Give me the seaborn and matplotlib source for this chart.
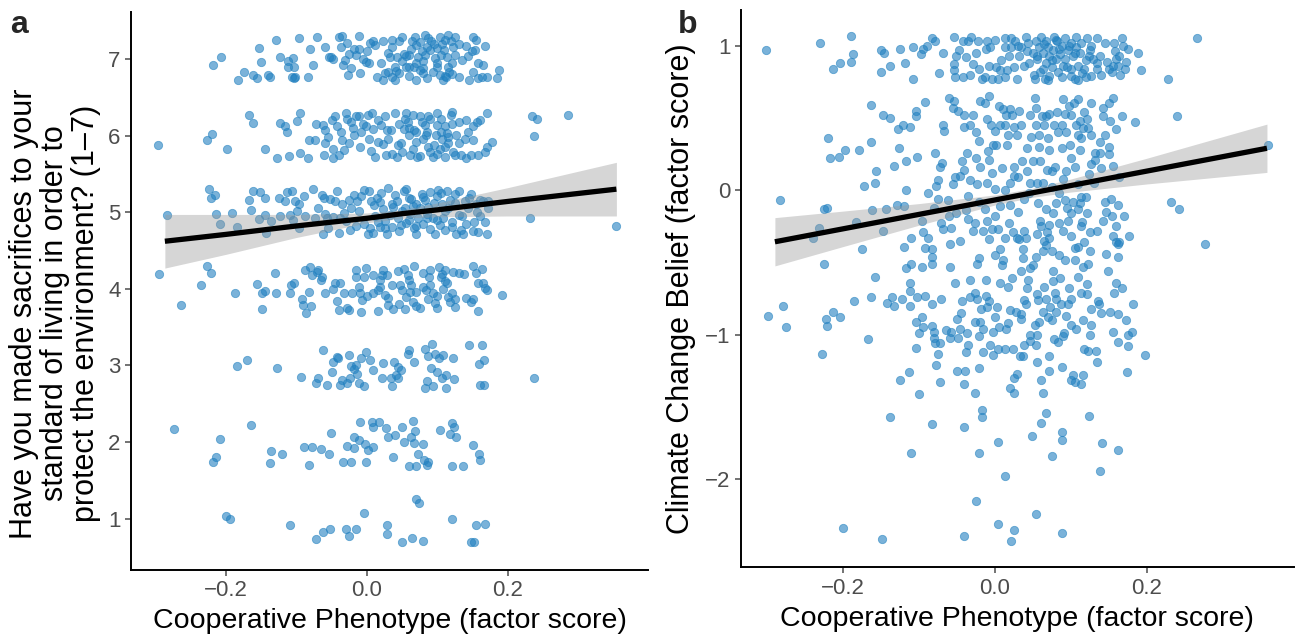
import matplotlib
matplotlib.use("Agg")
import matplotlib.pyplot as plt
import numpy as np
import pandas as pd
import seaborn as sns

# ---- panel a: sacrifices (1-7, jittered) vs cooperative phenotype ----
row7 = [(-0.219, 6.92), (-0.208, 7.02), (-0.183, 6.73), (-0.174, 6.83), (-0.162, 6.79), (-0.156, 6.75),
        (-0.154, 7.14), (-0.151, 6.96), (-0.141, 6.79), (-0.138, 6.76), (-0.129, 7.24), (-0.123, 7.02),
        (-0.112, 6.97), (-0.112, 6.90), (-0.107, 6.76), (-0.104, 6.75), (-0.102, 6.76), (-0.105, 7.01),
        (-0.104, 6.89), (-0.097, 7.27), (-0.084, 6.77), (-0.081, 7.13), (-0.076, 6.92), (-0.071, 7.29),
        (-0.059, 7.15), (-0.054, 7.03), (-0.051, 7.02), (-0.048, 7.00), (-0.040, 7.28), (-0.035, 7.30),
        (-0.037, 7.16), (-0.034, 6.92), (-0.031, 6.99), (-0.028, 7.21), (-0.027, 6.79), (-0.026, 7.07),
        (-0.023, 6.88), (-0.019, 7.13), (-0.015, 7.05), (-0.011, 7.30), (-0.011, 7.13), (-0.006, 7.00),
        (-0.002, 6.96), (0.003, 6.94), (0.004, 7.21), (0.008, 7.23), (0.011, 7.18), (0.014, 6.76),
        (0.022, 7.23), (0.023, 6.73), (0.026, 6.81), (0.030, 6.83), (0.032, 7.02), (0.036, 7.25),
        (0.036, 7.16), (0.036, 6.76), (0.040, 6.90), (0.041, 6.84), (0.043, 7.03), (0.045, 7.23),
        (0.046, 6.81), (0.049, 6.97), (0.052, 7.07), (0.055, 6.89), (0.056, 7.04), (0.059, 6.89),
        (0.062, 7.13), (0.064, 7.23), (0.066, 6.90), (0.068, 7.29), (0.069, 7.18), (0.070, 6.73),
        (0.072, 7.02), (0.075, 6.85), (0.078, 7.10), (0.079, 6.97), (0.080, 6.81), (0.082, 7.31),
        (0.083, 7.05), (0.085, 7.15), (0.087, 7.27), (0.091, 7.23), (0.094, 6.83), (0.097, 7.01),
        (0.099, 7.14), (0.100, 6.89), (0.103, 7.28), (0.104, 6.79), (0.106, 7.19), (0.108, 6.73),
        (0.109, 7.12), (0.112, 6.77), (0.113, 7.03), (0.115, 7.31), (0.117, 6.83), (0.119, 7.23),
        (0.120, 6.94), (0.122, 7.15), (0.125, 7.05), (0.130, 6.77), (0.141, 7.17), (0.143, 7.04),
        (0.149, 7.10), (0.151, 7.28), (0.153, 7.11), (0.151, 6.83), (0.157, 6.94), (0.158, 6.75),
        (0.163, 6.76), (0.165, 6.92), (0.167, 7.17), (0.170, 6.77), (0.184, 6.75), (0.188, 6.86),
        (0.050, 7.28), (0.060, 7.05), (0.070, 6.95), (0.080, 6.88), (0.090, 7.12), (0.100, 6.95),
        (0.110, 7.25), (0.120, 6.80), (0.130, 7.20), (0.020, 6.95), (0.040, 6.72), (0.060, 6.78),
        (0.085, 6.75), (0.095, 7.20), (0.105, 7.05), (0.115, 6.90), (0.125, 7.28), (0.135, 6.98),
        (0.145, 6.73), (0.155, 7.25), (0.000, 7.10), (-0.010, 6.82), (0.030, 7.08), (0.075, 7.22),
        (0.110, 6.78)]

row6 = [(-0.297, 5.87), (-0.227, 5.94), (-0.220, 6.02), (-0.199, 5.82), (-0.168, 6.27), (-0.162, 6.16),
        (-0.145, 5.83), (-0.128, 5.71), (-0.123, 6.16), (-0.117, 6.12), (-0.113, 6.05), (-0.111, 5.73),
        (-0.099, 6.19), (-0.095, 6.30), (-0.095, 5.77), (-0.084, 5.71), (-0.083, 5.94), (-0.073, 6.15),
        (-0.074, 5.94), (-0.062, 6.14), (-0.061, 5.75), (-0.059, 6.07), (-0.059, 5.90), (-0.055, 5.98),
        (-0.049, 5.71), (-0.049, 5.83), (-0.045, 6.26), (-0.043, 6.12), (-0.037, 6.04), (-0.035, 5.94),
        (-0.032, 5.81), (-0.030, 6.30), (-0.028, 6.22), (-0.025, 5.90), (-0.023, 6.17), (-0.019, 6.01),
        (-0.016, 6.25), (-0.011, 6.25), (-0.008, 6.05), (-0.006, 6.15), (-0.001, 6.12), (0.001, 6.27),
        (0.003, 5.96), (0.007, 6.30), (0.009, 6.09), (0.012, 5.72), (0.016, 5.91), (0.020, 6.14),
        (0.022, 5.89), (0.026, 6.26), (0.027, 5.75), (0.029, 6.07), (0.034, 6.07), (0.040, 6.29),
        (0.042, 5.72), (0.044, 5.88), (0.048, 5.90), (0.053, 6.08), (0.054, 6.22), (0.056, 6.30),
        (0.058, 6.18), (0.060, 6.01), (0.061, 5.75), (0.065, 5.83), (0.067, 6.07), (0.069, 6.05),
        (0.071, 5.72), (0.075, 6.25), (0.078, 6.18), (0.080, 5.96), (0.082, 6.14), (0.084, 6.01),
        (0.086, 5.85), (0.087, 6.25), (0.090, 5.79), (0.094, 5.72), (0.098, 6.01), (0.099, 6.14),
        (0.100, 6.29), (0.104, 5.83), (0.105, 6.22), (0.107, 5.96), (0.110, 5.72), (0.111, 6.12),
        (0.113, 6.03), (0.115, 5.90), (0.119, 6.27), (0.121, 6.31), (0.122, 5.79), (0.127, 6.01),
        (0.130, 6.18), (0.134, 5.75), (0.140, 5.70), (0.139, 5.96), (0.143, 6.05), (0.148, 5.75),
        (0.150, 5.94), (0.151, 6.12), (0.158, 5.75), (0.156, 6.18), (0.160, 6.20), (0.167, 5.79),
        (0.170, 5.85), (0.171, 6.29), (0.177, 5.92), (0.234, 6.26), (0.241, 6.22), (0.237, 6.00),
        (0.286, 6.27), (0.005, 5.80), (0.015, 6.20), (0.030, 5.95), (0.045, 6.15), (0.050, 5.78),
        (0.060, 6.10), (0.070, 5.92), (0.075, 5.73), (0.085, 6.05), (0.090, 6.22), (0.095, 5.88),
        (0.100, 5.76), (0.105, 6.05), (0.110, 5.85), (0.120, 6.15), (0.125, 5.74), (0.130, 5.90),
        (0.140, 6.20), (-0.010, 5.85), (-0.020, 6.10), (-0.040, 5.75), (-0.050, 6.20), (0.035, 5.76),
        (0.065, 6.27), (0.115, 5.98)]

row5 = [(-0.284, 4.96), (-0.224, 5.30), (-0.222, 5.19), (-0.216, 5.22), (-0.215, 4.98), (-0.209, 4.84),
        (-0.191, 4.99), (-0.185, 4.80), (-0.168, 5.16), (-0.165, 5.03), (-0.162, 5.27), (-0.153, 4.91),
        (-0.152, 5.26), (-0.145, 5.19), (-0.145, 4.96), (-0.143, 4.73), (-0.137, 4.88), (-0.125, 5.19),
        (-0.124, 4.95), (-0.117, 5.14), (-0.114, 5.26), (-0.110, 4.96), (-0.107, 5.28), (-0.105, 4.90),
        (-0.102, 5.14), (-0.099, 5.01), (-0.097, 4.79), (-0.096, 5.10), (-0.090, 5.21), (-0.088, 4.95),
        (-0.077, 5.30), (-0.074, 4.93), (-0.070, 5.06), (-0.064, 5.23), (-0.063, 4.71), (-0.061, 5.19),
        (-0.057, 4.92), (-0.055, 4.79), (-0.052, 5.17), (-0.048, 4.94), (-0.043, 5.27), (-0.040, 4.73),
        (-0.038, 4.93), (-0.036, 5.11), (-0.033, 4.99), (-0.026, 5.16), (-0.024, 4.77), (-0.023, 5.05),
        (-0.019, 5.22), (-0.016, 4.82), (-0.014, 5.14), (-0.011, 5.01), (-0.009, 5.21), (-0.005, 5.29),
        (-0.004, 4.85), (0.001, 4.71), (0.003, 5.28), (0.004, 4.79), (0.009, 4.73), (0.010, 5.09),
        (0.014, 5.19), (0.015, 4.87), (0.018, 4.81), (0.019, 5.13), (0.022, 5.04), (0.026, 4.79),
        (0.028, 4.71), (0.030, 5.31), (0.032, 4.96), (0.035, 4.81), (0.037, 5.07), (0.040, 5.23),
        (0.042, 5.14), (0.044, 4.92), (0.048, 4.83), (0.052, 5.28), (0.054, 5.06), (0.056, 4.86),
        (0.059, 5.19), (0.061, 4.97), (0.063, 5.17), (0.066, 4.79), (0.069, 4.71), (0.070, 5.11),
        (0.073, 4.92), (0.075, 5.05), (0.078, 5.24), (0.080, 4.84), (0.082, 5.16), (0.085, 4.92),
        (0.087, 5.07), (0.090, 5.26), (0.093, 4.92), (0.096, 4.71), (0.099, 5.21), (0.101, 5.29),
        (0.104, 4.83), (0.106, 5.11), (0.108, 4.93), (0.110, 4.77), (0.113, 5.27), (0.115, 5.05),
        (0.118, 5.16), (0.121, 4.87), (0.125, 5.24), (0.127, 4.71), (0.130, 4.96), (0.133, 4.77),
        (0.136, 4.71), (0.139, 5.14), (0.144, 5.05), (0.148, 5.24), (0.152, 4.87), (0.156, 5.00),
        (0.158, 4.74), (0.160, 5.16), (0.165, 5.14), (0.167, 4.87), (0.170, 4.72), (0.172, 5.14),
        (0.172, 5.05), (0.231, 4.92), (0.354, 4.82), (0.005, 5.15), (0.012, 4.95), (0.020, 5.25),
        (0.025, 4.88), (0.035, 5.10), (0.045, 4.75), (0.050, 5.02), (0.055, 5.30), (0.060, 4.90),
        (0.065, 5.08), (0.070, 4.82), (0.080, 5.20), (0.085, 4.98), (0.090, 4.78), (0.095, 5.12),
        (0.100, 4.90), (0.105, 5.25), (0.110, 5.02), (0.120, 4.80), (0.125, 5.12), (0.130, 5.28),
        (0.135, 4.95), (0.140, 4.85), (0.145, 5.18), (0.150, 4.75), (0.155, 5.10), (0.160, 4.95),
        (-0.030, 4.88), (-0.045, 5.15), (-0.060, 4.98)]

row4 = [(-0.296, 4.19), (-0.264, 3.79), (-0.235, 4.05), (-0.227, 4.30), (-0.221, 4.21), (-0.188, 3.94),
        (-0.156, 4.06), (-0.149, 3.95), (-0.149, 3.73), (-0.145, 3.97), (-0.130, 4.21), (-0.129, 3.94),
        (-0.110, 3.94), (-0.108, 4.05), (-0.104, 4.07), (-0.093, 3.86), (-0.091, 3.79), (-0.088, 4.25),
        (-0.086, 3.69), (-0.082, 3.96), (-0.081, 4.29), (-0.080, 3.77), (-0.078, 4.18), (-0.071, 4.22),
        (-0.069, 4.25), (-0.066, 4.11), (-0.064, 4.16), (-0.059, 3.95), (-0.049, 4.00), (-0.045, 4.07),
        (-0.043, 3.84), (-0.040, 3.72), (-0.038, 4.08), (-0.032, 3.95), (-0.028, 3.75), (-0.026, 3.72),
        (-0.022, 3.94), (-0.016, 4.24), (-0.015, 4.16), (-0.012, 4.02), (-0.010, 3.95), (-0.008, 3.70),
        (-0.007, 3.85), (-0.005, 4.16), (-0.001, 4.27), (0.008, 4.18), (0.009, 3.95), (0.015, 3.71),
        (0.016, 3.98), (0.018, 4.11), (0.019, 4.02), (0.021, 4.18), (0.023, 4.24), (0.026, 3.92),
        (0.028, 4.18), (0.030, 3.79), (0.037, 3.74), (0.044, 4.23), (0.047, 4.05), (0.049, 3.98),
        (0.052, 4.26), (0.054, 3.74), (0.056, 3.89), (0.058, 4.18), (0.061, 3.96), (0.063, 4.05),
        (0.065, 3.83), (0.067, 4.30), (0.070, 3.96), (0.075, 3.75), (0.079, 4.20), (0.084, 3.98),
        (0.086, 3.86), (0.088, 4.16), (0.090, 4.05), (0.094, 3.94), (0.096, 3.81), (0.100, 3.75),
        (0.102, 4.29), (0.106, 4.19), (0.108, 4.00), (0.111, 4.24), (0.113, 4.07), (0.115, 3.89),
        (0.118, 3.83), (0.122, 4.22), (0.125, 3.87), (0.138, 4.19), (0.147, 3.83), (0.151, 3.87),
        (0.151, 4.30), (0.155, 4.20), (0.157, 3.71), (0.158, 4.07), (0.163, 4.26), (0.164, 4.08),
        (0.167, 4.01), (0.170, 3.98), (0.192, 3.92), (0.060, 4.12), (0.070, 3.78), (0.080, 4.02),
        (0.090, 4.25), (0.100, 3.90), (0.110, 4.10), (0.120, 3.95), (0.130, 4.20), (0.140, 3.88),
        (0.035, 4.05), (0.045, 3.80), (0.000, 3.90), (0.030, 3.88), (0.105, 4.15), (0.125, 3.76)]

row3 = [(-0.185, 2.99), (-0.171, 3.07), (-0.128, 2.96), (-0.094, 2.85), (-0.073, 2.77), (-0.069, 2.83),
        (-0.063, 3.20), (-0.057, 2.74), (-0.050, 2.92), (-0.048, 3.04), (-0.042, 3.11), (-0.041, 3.09),
        (-0.038, 2.75), (-0.035, 2.81), (-0.029, 2.77), (-0.026, 3.14), (-0.024, 2.83), (-0.023, 2.99),
        (-0.019, 2.95), (-0.015, 3.00), (-0.014, 2.89), (-0.012, 2.77), (-0.009, 3.09), (-0.005, 2.73),
        (-0.002, 3.17), (0.004, 3.07), (0.009, 2.94), (0.021, 2.83), (0.023, 3.03), (0.034, 2.83),
        (0.035, 2.73), (0.038, 3.04), (0.041, 2.88), (0.044, 2.98), (0.044, 2.83), (0.048, 2.94),
        (0.059, 3.20), (0.058, 3.15), (0.066, 3.04), (0.083, 3.22), (0.085, 2.80), (0.083, 2.70),
        (0.087, 3.12), (0.091, 2.96), (0.092, 3.28), (0.093, 2.73), (0.096, 3.15), (0.100, 2.92),
        (0.102, 3.09), (0.106, 2.83), (0.108, 3.14), (0.112, 2.88), (0.112, 2.70), (0.122, 3.10),
        (0.124, 2.82), (0.145, 3.27), (0.159, 3.02), (0.163, 3.26), (0.160, 2.75), (0.166, 2.74),
        (0.166, 3.07), (0.237, 2.83)]

row2 = [(-0.274, 2.17), (-0.209, 2.04), (-0.214, 1.81), (-0.218, 1.74), (-0.165, 2.22), (-0.136, 1.88),
        (-0.121, 1.85), (-0.138, 1.73), (-0.089, 1.93), (-0.078, 1.93), (-0.066, 1.91), (-0.082, 1.70),
        (-0.054, 1.84), (-0.051, 2.12), (-0.034, 1.74), (-0.028, 1.95), (-0.023, 1.74), (-0.019, 1.92),
        (-0.019, 2.06), (-0.012, 2.02), (-0.010, 2.26), (-0.003, 1.98), (-0.002, 1.74), (0.002, 1.90),
        (0.007, 2.26), (0.008, 2.19), (0.009, 1.94), (0.017, 2.26), (0.027, 2.18), (0.030, 2.07),
        (0.037, 1.81), (0.039, 2.09), (0.049, 2.19), (0.053, 2.00), (0.059, 1.69), (0.062, 2.06),
        (0.065, 2.27), (0.066, 1.99), (0.068, 2.14), (0.070, 1.69), (0.073, 1.85), (0.079, 1.97),
        (0.081, 1.77), (0.087, 1.74), (0.085, 1.70), (0.104, 2.16), (0.118, 2.10), (0.120, 2.25),
        (0.123, 2.19), (0.127, 2.06), (0.120, 1.69), (0.136, 1.69), (0.150, 1.96), (0.159, 1.85),
        (0.161, 1.77)]

row1 = [(-0.200, 1.04), (-0.195, 0.99), (-0.110, 0.92), (-0.072, 0.73), (-0.062, 0.83), (-0.052, 0.87),
        (-0.030, 0.87), (-0.026, 0.78), (-0.015, 0.87), (-0.004, 1.08), (0.028, 0.80), (0.029, 0.92),
        (0.050, 0.69), (0.064, 0.75), (0.069, 1.25), (0.074, 1.20), (0.080, 0.71), (0.120, 0.99),
        (0.147, 0.70), (0.152, 0.69), (0.154, 0.92), (0.168, 0.93)]

# fitted line and 95% band
fit_a_x = [-0.287, -0.2, -0.1, 0.0, 0.05, 0.1, 0.2, 0.354]
fit_a_y = [4.62, 4.71, 4.82, 4.92, 4.98, 5.03, 5.14, 5.30]
fit_a_lo = [4.27, 4.45, 4.67, 4.86, 4.92, 4.94, 4.95, 4.95]
fit_a_hi = [4.97, 4.97, 4.97, 4.99, 5.03, 5.12, 5.32, 5.65]

# ---- panel b: climate change belief vs cooperative phenotype ----
belief_top = [(-0.301, 0.97), (-0.230, 1.02), (-0.189, 1.07), (-0.186, 0.94), (-0.189, 0.89), (-0.204, 0.88),
              (-0.213, 0.84), (-0.150, 0.97), (-0.145, 0.95), (-0.149, 0.82), (-0.137, 0.86), (-0.124, 0.98),
              (-0.118, 0.88), (-0.107, 0.99), (-0.108, 0.77), (-0.097, 0.94), (-0.094, 0.98), (-0.089, 1.00),
              (-0.082, 1.05), (-0.079, 1.03), (-0.068, 0.95), (-0.073, 0.81), (-0.054, 1.06), (-0.054, 0.87),
              (-0.053, 0.83), (-0.052, 0.78), (-0.051, 0.93), (-0.047, 0.97), (-0.042, 0.78), (-0.042, 1.03),
              (-0.038, 0.92), (-0.035, 1.03), (-0.033, 0.80), (-0.031, 1.06), (-0.028, 0.87), (-0.025, 0.95),
              (-0.022, 1.03), (-0.021, 0.84), (-0.017, 0.77), (-0.013, 0.78), (-0.011, 0.98), (-0.010, 1.03),
              (-0.008, 0.86), (-0.006, 0.99), (-0.004, 0.77), (0.001, 1.04), (0.002, 0.85), (0.005, 0.77),
              (0.007, 0.83), (0.008, 0.90), (0.013, 0.78), (0.014, 1.05), (0.014, 0.99), (0.016, 0.83),
              (0.019, 0.93), (0.021, 0.99), (0.022, 1.05), (0.026, 0.85), (0.027, 1.03), (0.029, 0.77),
              (0.032, 0.93), (0.035, 0.99), (0.039, 0.86), (0.041, 1.06), (0.042, 0.96), (0.044, 1.02),
              (0.050, 0.95), (0.052, 0.80), (0.053, 0.77), (0.054, 1.03), (0.056, 0.91), (0.058, 0.99),
              (0.061, 1.06), (0.063, 0.84), (0.064, 0.95), (0.066, 0.77), (0.067, 1.03), (0.068, 0.88),
              (0.070, 0.99), (0.071, 0.79), (0.072, 0.93), (0.075, 0.85), (0.077, 0.97), (0.078, 1.06),
              (0.080, 0.91), (0.082, 1.03), (0.083, 0.82), (0.086, 0.94), (0.088, 0.78), (0.089, 1.00),
              (0.090, 0.86), (0.092, 1.05), (0.093, 0.91), (0.096, 0.97), (0.098, 1.00), (0.100, 0.79),
              (0.101, 0.84), (0.103, 0.93), (0.105, 0.77), (0.107, 0.99), (0.107, 1.06), (0.110, 0.86),
              (0.112, 0.95), (0.114, 1.02), (0.118, 0.84), (0.120, 0.78), (0.121, 1.05), (0.124, 0.93),
              (0.126, 0.79), (0.127, 1.00), (0.129, 0.91), (0.134, 0.84), (0.135, 1.05), (0.139, 0.93),
              (0.140, 0.80), (0.148, 0.89), (0.150, 0.84), (0.154, 0.82), (0.157, 1.02), (0.158, 0.96),
              (0.160, 0.91), (0.162, 0.86), (0.164, 0.93), (0.167, 1.05), (0.169, 1.00), (0.171, 0.84),
              (0.173, 0.89), (0.175, 0.98), (0.189, 0.95), (0.193, 0.83), (0.228, 0.77), (0.266, 1.05),
              (0.030, 1.00), (0.045, 0.88), (0.055, 0.93), (0.065, 1.01), (0.075, 0.90), (0.085, 0.98),
              (0.095, 0.85), (0.105, 0.95), (0.115, 0.81), (0.125, 0.97), (0.135, 0.88), (0.145, 1.02),
              (0.155, 0.86), (0.165, 0.80), (0.060, 0.82), (0.080, 1.04), (0.100, 1.02), (0.120, 0.90),
              (0.070, 0.76), (0.110, 0.76)]

belief_upper = [(-0.163, 0.59), (-0.147, 0.52), (-0.137, 0.50), (-0.127, 0.42), (-0.121, 0.45), (-0.111, 0.44),
                (-0.104, 0.55), (-0.103, 0.51), (-0.091, 0.61), (-0.068, 0.45), (-0.067, 0.41), (-0.060, 0.64),
                (-0.054, 0.62), (-0.055, 0.57), (-0.048, 0.55), (-0.040, 0.52), (-0.041, 0.44), (-0.033, 0.45),
                (-0.029, 0.52), (-0.024, 0.40), (-0.021, 0.34), (-0.019, 0.62), (-0.013, 0.60), (-0.010, 0.49),
                (-0.007, 0.65), (-0.005, 0.45), (-0.002, 0.31), (0.001, 0.41), (0.006, 0.58), (0.007, 0.45),
                (0.011, 0.56), (0.013, 0.45), (0.015, 0.52), (0.018, 0.38), (0.020, 0.56), (0.023, 0.52),
                (0.026, 0.44), (0.029, 0.38), (0.032, 0.55), (0.035, 0.45), (0.046, 0.52), (0.048, 0.37),
                (0.053, 0.64), (0.054, 0.57), (0.054, 0.45), (0.058, 0.38), (0.062, 0.51), (0.065, 0.45),
                (0.068, 0.51), (0.070, 0.36), (0.072, 0.53), (0.078, 0.45), (0.082, 0.54), (0.083, 0.40),
                (0.088, 0.45), (0.090, 0.63), (0.092, 0.53), (0.094, 0.40), (0.098, 0.58), (0.101, 0.52),
                (0.104, 0.60), (0.107, 0.45), (0.109, 0.38), (0.110, 0.63), (0.112, 0.48), (0.114, 0.36),
                (0.116, 0.43), (0.118, 0.54), (0.121, 0.49), (0.123, 0.43), (0.126, 0.60), (0.127, 0.38),
                (0.138, 0.33), (0.142, 0.57), (0.143, 0.51), (0.145, 0.38), (0.150, 0.60), (0.151, 0.48),
                (0.156, 0.64), (0.160, 0.42), (0.167, 0.51), (0.185, 0.47), (0.240, 0.51),
                (-0.219, 0.36), (-0.197, 0.28), (-0.178, 0.28), (-0.163, 0.33), (-0.126, 0.29), (-0.079, 0.26),
                (-0.036, 0.26), (-0.009, 0.27), (0.002, 0.31), (0.016, 0.31), (0.042, 0.29), (0.058, 0.30),
                (0.072, 0.28), (0.089, 0.29), (0.099, 0.31), (0.112, 0.28), (0.132, 0.26), (0.138, 0.26),
                (0.150, 0.30)]

belief_middle = [(-0.216, 0.22), (-0.205, 0.23), (-0.156, 0.13), (-0.172, 0.03), (-0.158, 0.05), (-0.132, 0.17),
                 (-0.117, 0.20), (-0.116, 0.00), (-0.102, 0.23), (-0.088, -0.02), (-0.077, 0.03), (-0.075, 0.07),
                 (-0.075, -0.06), (-0.072, 0.16), (-0.069, 0.19), (-0.061, -0.07), (-0.060, -0.18), (-0.055, 0.04),
                 (-0.052, 0.09), (-0.045, 0.10), (-0.043, 0.20), (-0.041, 0.14), (-0.035, -0.04), (-0.033, 0.07),
                 (-0.024, 0.22), (-0.023, 0.04), (-0.019, 0.16), (-0.010, 0.05), (-0.007, 0.21), (-0.003, 0.12),
                 (0.000, 0.01), (0.007, -0.11), (0.014, 0.00), (0.020, -0.10), (0.025, 0.16), (0.026, 0.10),
                 (0.031, 0.09), (0.036, 0.20), (0.039, -0.06), (0.043, 0.13), (0.046, 0.05), (0.050, 0.20),
                 (0.055, 0.05), (0.057, -0.09), (0.064, 0.05), (0.067, -0.13), (0.069, 0.14), (0.075, 0.13),
                 (0.077, -0.16), (0.079, 0.16), (0.081, -0.09), (0.085, -0.02), (0.092, -0.07), (0.094, 0.13),
                 (0.101, -0.16), (0.103, -0.08), (0.105, 0.16), (0.110, -0.13), (0.112, -0.09), (0.114, -0.05),
                 (0.121, -0.16), (0.124, 0.11), (0.127, 0.18), (0.132, 0.21), (0.143, -0.21), (0.147, -0.15),
                 (0.153, -0.06), (0.154, -0.18), (0.156, 0.17), (0.159, -0.25), (0.162, -0.10), (0.164, 0.09),
                 (0.170, -0.18), (0.177, -0.32), (0.232, -0.08), (0.242, -0.13), (0.277, -0.37), (0.360, 0.31),
                 (-0.282, -0.07), (-0.224, -0.13), (-0.221, -0.12), (-0.231, -0.26), (-0.239, -0.33),
                 (-0.182, -0.22), (-0.175, -0.41), (-0.224, -0.51), (-0.161, -0.14), (-0.147, -0.28),
                 (-0.143, -0.13), (-0.129, -0.10), (-0.119, -0.11), (-0.119, -0.39), (-0.110, -0.33),
                 (-0.117, -0.54), (-0.110, -0.51), (-0.096, -0.21), (-0.094, -0.29), (-0.092, -0.40),
                 (-0.096, -0.53), (-0.088, -0.33), (-0.082, -0.41), (-0.083, -0.46), (-0.083, -0.51),
                 (-0.080, -0.12), (-0.071, -0.23), (-0.068, -0.27), (-0.058, -0.26), (-0.059, -0.37),
                 (-0.059, -0.53), (-0.051, -0.16), (-0.038, -0.14), (-0.035, -0.20), (-0.029, -0.28),
                 (-0.026, -0.23), (-0.020, -0.47), (-0.023, -0.51), (-0.015, -0.28), (-0.013, -0.13),
                 (-0.010, -0.21), (-0.007, -0.34), (-0.004, -0.27), (0.001, -0.18), (0.004, -0.27),
                 (0.007, -0.41), (0.009, -0.52), (0.011, -0.48), (0.013, -0.33), (0.019, -0.23), (0.024, -0.29),
                 (0.029, -0.33), (0.032, -0.34), (0.034, -0.56), (0.037, -0.41), (0.039, -0.28), (0.037, -0.47),
                 (0.041, -0.33), (0.046, -0.54), (0.050, -0.52), (0.054, -0.46), (0.056, -0.30), (0.059, -0.21),
                 (0.061, -0.25), (0.064, -0.42), (0.067, -0.38), (0.069, -0.29), (0.071, -0.33), (0.072, -0.24),
                 (0.075, -0.42), (0.077, -0.56), (0.085, -0.23), (0.090, -0.28), (0.093, -0.48), (0.096, -0.21),
                 (0.101, -0.32), (0.105, -0.48), (0.110, -0.39), (0.113, -0.25), (0.116, -0.53), (0.118, -0.36),
                 (0.123, -0.51), (0.125, -0.29), (0.147, -0.44), (0.149, -0.56), (0.160, -0.36), (0.162, -0.46),
                 (0.162, -0.37), (0.164, -0.36), (0.020, 0.05), (0.030, -0.15), (0.045, -0.02), (0.060, 0.20),
                 (0.065, -0.35), (0.075, 0.02), (0.085, -0.45), (0.090, 0.08), (0.095, -0.12), (0.100, 0.22),
                 (0.105, -0.40), (0.110, 0.04), (0.115, -0.22), (0.120, -0.05), (0.125, -0.42), (0.130, 0.05),
                 (0.135, -0.28), (0.140, 0.15), (0.145, -0.08), (0.150, 0.25), (0.155, -0.32), (0.000, -0.45),
                 (-0.020, -0.08), (-0.045, -0.35), (0.010, 0.15)]

belief_lower = [(-0.298, -0.87), (-0.279, -0.80), (-0.275, -0.95), (-0.227, -1.13), (-0.222, -0.89), (-0.221, -0.94),
                (-0.212, -0.84), (-0.204, -0.88), (-0.185, -0.77), (-0.166, -1.03), (-0.163, -0.74), (-0.157, -0.60),
                (-0.141, -0.78), (-0.135, -0.74), (-0.132, -0.80), (-0.125, -1.31), (-0.122, -0.75), (-0.113, -1.26),
                (-0.111, -0.64), (-0.111, -0.70), (-0.111, -0.80), (-0.104, -1.09), (-0.103, -0.91), (-0.102, -0.74),
                (-0.100, -0.99), (-0.099, -1.41), (-0.095, -0.88), (-0.094, -0.95), (-0.092, -0.73), (-0.083, -0.79),
                (-0.083, -0.94), (-0.080, -1.02), (-0.080, -0.98), (-0.078, -1.06), (-0.077, -1.21), (-0.074, -1.13),
                (-0.072, -1.06), (-0.072, -1.33), (-0.071, -0.75), (-0.064, -0.97), (-0.059, -1.02), (-0.057, -0.98),
                (-0.052, -0.64), (-0.050, -1.25), (-0.050, -0.89), (-0.048, -1.02), (-0.045, -0.96), (-0.044, -0.85),
                (-0.043, -0.77), (-0.041, -1.34), (-0.039, -1.25), (-0.038, -1.12), (-0.037, -0.99), (-0.035, -1.07),
                (-0.033, -0.62), (-0.033, -0.74), (-0.026, -0.71), (-0.026, -1.40), (-0.026, -0.91), (-0.023, -0.75),
                (-0.021, -1.23), (-0.020, -1.01), (-0.019, -0.91), (-0.018, -0.82), (-0.016, -0.96), (-0.015, -1.12),
                (-0.012, -0.62), (-0.011, -0.73), (-0.010, -0.81), (-0.007, -0.77), (-0.006, -1.07), (-0.002, -1.14),
                (-0.002, -0.98), (0.000, -0.88), (0.003, -0.81), (0.004, -1.10), (0.006, -0.95), (0.007, -0.64),
                (0.013, -1.10), (0.015, -0.96), (0.017, -0.67), (0.018, -0.92), (0.020, -0.83), (0.020, -1.37),
                (0.023, -0.61), (0.024, -1.10), (0.025, -1.30), (0.026, -1.40), (0.028, -0.84), (0.029, -1.27),
                (0.033, -1.15), (0.034, -0.86), (0.035, -0.89), (0.037, -1.15), (0.038, -1.07), (0.039, -0.76),
                (0.041, -0.79), (0.042, -0.68), (0.044, -0.62), (0.046, -1.04), (0.047, -1.00), (0.053, -0.93),
                (0.054, -1.07), (0.055, -1.19), (0.055, -1.00), (0.056, -0.72), (0.057, -0.76), (0.058, -0.91),
                (0.061, -1.31), (0.063, -1.40), (0.064, -0.84), (0.065, -0.67), (0.068, -0.75), (0.070, -0.88),
                (0.071, -1.25), (0.072, -1.15), (0.073, -0.81), (0.076, -0.90), (0.077, -0.63), (0.078, -1.03),
                (0.079, -0.71), (0.080, -0.75), (0.081, -0.84), (0.083, -1.05), (0.086, -0.61), (0.087, -0.79),
                (0.088, -1.22), (0.090, -1.01), (0.091, -0.99), (0.094, -0.87), (0.096, -0.79), (0.098, -0.68),
                (0.100, -0.93), (0.100, -0.75), (0.101, -1.31), (0.103, -1.28), (0.105, -1.33), (0.107, -0.96),
                (0.110, -0.60), (0.113, -1.34), (0.114, -0.71), (0.116, -0.90), (0.116, -1.28), (0.118, -1.10),
                (0.121, -0.65), (0.121, -0.72), (0.123, -1.11), (0.125, -1.00), (0.126, -0.93), (0.127, -0.82),
                (0.133, -1.11), (0.134, -1.19), (0.136, -0.77), (0.137, -0.79), (0.140, -0.85), (0.151, -0.84),
                (0.155, -0.98), (0.157, -0.71), (0.159, -0.64), (0.162, -0.86), (0.162, -1.05), (0.168, -0.68),
                (0.173, -0.90), (0.175, -1.00), (0.175, -1.08), (0.174, -1.26), (0.180, -0.98), (0.182, -0.79),
                (0.198, -1.14)]

belief_tail = [(-0.138, -1.57), (-0.082, -1.62), (-0.041, -1.64), (-0.017, -1.52), (-0.017, -1.57), (0.068, -1.54),
               (0.061, -1.61), (0.088, -1.67), (0.089, -1.73), (0.124, -1.56), (-0.110, -1.82), (-0.021, -1.82),
               (0.005, -1.74), (0.049, -1.70), (0.075, -1.84), (0.141, -1.75), (0.162, -1.80), (0.139, -1.94),
               (0.013, -1.98), (-0.025, -2.15), (0.054, -2.24), (-0.199, -2.34), (-0.148, -2.41), (-0.041, -2.39),
               (0.004, -2.31), (0.026, -2.35), (0.021, -2.43), (0.088, -2.37)]

fit_b_x = [-0.289, -0.2, -0.1, 0.0, 0.05, 0.1, 0.2, 0.358]
fit_b_y = [-0.357, -0.268, -0.168, -0.068, -0.018, 0.032, 0.132, 0.290]
fit_b_lo = [-0.524, -0.391, -0.243, -0.103, -0.049, -0.013, 0.043, 0.123]
fit_b_hi = [-0.190, -0.145, -0.093, -0.033, 0.013, 0.077, 0.221, 0.457]

df_a = pd.DataFrame(row7 + row6 + row5 + row4 + row3 + row2 + row1, columns=["coop", "sacrifice"])
df_b = pd.DataFrame(belief_top + belief_upper + belief_middle + belief_lower + belief_tail,
                    columns=["coop", "belief"])

sns.set_style("ticks")
plt.rcParams["font.family"] = ["Liberation Sans", "DejaVu Sans"]

point_col = "#2180c0"
fig = plt.figure(figsize=(13.04, 6.39), dpi=100)
ax_a = fig.add_axes([0.1005, 0.108, 0.3965, 0.873])
ax_b = fig.add_axes([0.568, 0.112, 0.424, 0.872])


def draw_panel(ax, df, ycol, fx, fy, lo, hi):
    sns.scatterplot(data=df, x="coop", y=ycol, ax=ax, color=point_col, alpha=0.6,
                    s=36, edgecolor=point_col, linewidth=0.6, zorder=2)
    ax.fill_between(fx, lo, hi, color="#999999", alpha=0.4, linewidth=0, zorder=3)
    ax.plot(fx, fy, color="black", lw=3.8, solid_capstyle="butt", zorder=4)
    sns.despine(ax=ax)
    for sp in ["left", "bottom"]:
        ax.spines[sp].set_linewidth(1.4)
        ax.spines[sp].set_color("black")
    ax.tick_params(axis="both", labelsize=16, colors="#4d4d4d", length=4, width=1.1)
    ax.set_xticks([-0.2, 0.0, 0.2])
    ax.set_xlabel("Cooperative Phenotype (factor score)", fontsize=20.5, color="black", labelpad=5)


draw_panel(ax_a, df_a, "sacrifice", fit_a_x, fit_a_y, fit_a_lo, fit_a_hi)
ax_a.set_xlim(-0.335, 0.399)
ax_a.set_ylim(0.33, 7.61)
ax_a.set_yticks([1, 2, 3, 4, 5, 6, 7])
ax_a.set_ylabel("Have you made sacrifices to your\nstandard of living in order to\nprotect the environment? (1\u20137)",
                fontsize=22, color="black", linespacing=1.05)
ax_a.yaxis.set_label_coords(-0.058, 0.46)

draw_panel(ax_b, df_b, "belief", fit_b_x, fit_b_y, fit_b_lo, fit_b_hi)
ax_b.set_xlim(-0.334, 0.393)
ax_b.set_ylim(-2.61, 1.245)
ax_b.set_yticks([-2, -1, 0, 1])
ax_b.set_ylabel("Climate Change Belief (factor score)", fontsize=22, color="black", labelpad=6)

fig.text(0.008, 0.948, "a", fontsize=23, fontweight="bold")
fig.text(0.520, 0.948, "b", fontsize=23, fontweight="bold")

fig.savefig("out.png", dpi=100)
